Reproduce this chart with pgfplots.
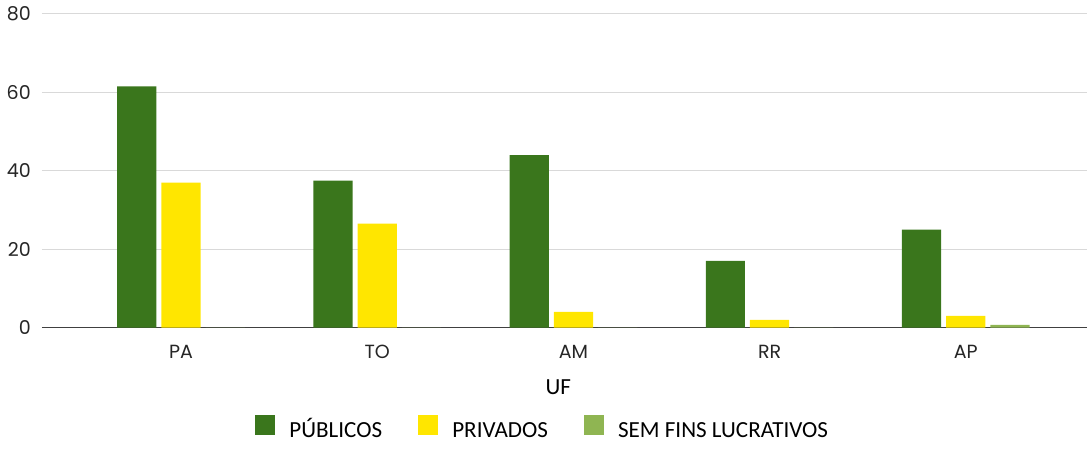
\documentclass[border=0pt]{standalone}
\usepackage{pgfplots}
\pgfplotsset{compat=1.18}
\usepackage{fontspec}
\setmainfont{Carlito}
\newfontfamily\tickfont{Poppins}

\definecolor{publicos}{HTML}{3A761C}
\definecolor{privados}{HTML}{FFE600}
\definecolor{semfins}{HTML}{8FB552}
\definecolor{gridgray}{HTML}{D9D9D9}

\pgfplotstableread{
x publicos privados semfins
0 61.5 37 0
1 37.5 26.5 0
2 44 4 0
3 17 2 0
4 25 3 0.7
}\dados

\begin{document}
\begin{tikzpicture}
\begin{axis}[
    scale only axis,
    width=521.5pt, height=156.5pt,
    ybar=2.5pt,
    bar width=0.2,
    xmin=-0.71, xmax=4.62,
    ymin=0, ymax=80,
    ytick={0,20,40,60,80},
    xtick={0,1,2,3,4},
    xticklabels={PA,TO,AM,RR,AP},
    ymajorgrids,
    grid style={gridgray, line width=0.6pt},
    axis x line*=bottom,
    axis y line*=left,
    y axis line style={draw=none},
    x axis line style={draw=black!75, line width=0.6pt},
    xtick style={draw=none},
    ytick style={draw=none},
    ticklabel style={font=\tickfont\fontsize{9.5}{11}\selectfont, text=black!85},
    /pgf/number format/assume math mode=true,
    yticklabel style={xshift=-2pt},
    xticklabel style={yshift=-1pt},
    xlabel={UF},
    xlabel style={font=\fontsize{11.5}{13}\selectfont, at={(axis description cs:0.494,-0.19)}, anchor=center},
    legend columns=3,
    legend style={draw=none, font=\fontsize{11.5}{13}\selectfont,
        at={(axis description cs:0.48,-0.33)}, anchor=center,
        nodes={text height=9pt, text depth=2.5pt},
        /tikz/every odd column/.append style={column sep=5pt},
        /tikz/every even column/.append style={column sep=16pt}},
    legend image code/.code={\fill[#1] (0pt,-2pt) rectangle (10pt,8pt);},
]
\addplot[draw=none, fill=publicos] table[x=x, y=publicos] {\dados};
\addplot[draw=none, fill=privados] table[x=x, y=privados] {\dados};
\addplot[draw=none, fill=semfins] table[x=x, y=semfins] {\dados};
\legend{PÚBLICOS, PRIVADOS, SEM FINS LUCRATIVOS}
\end{axis}
\end{tikzpicture}
\end{document}
